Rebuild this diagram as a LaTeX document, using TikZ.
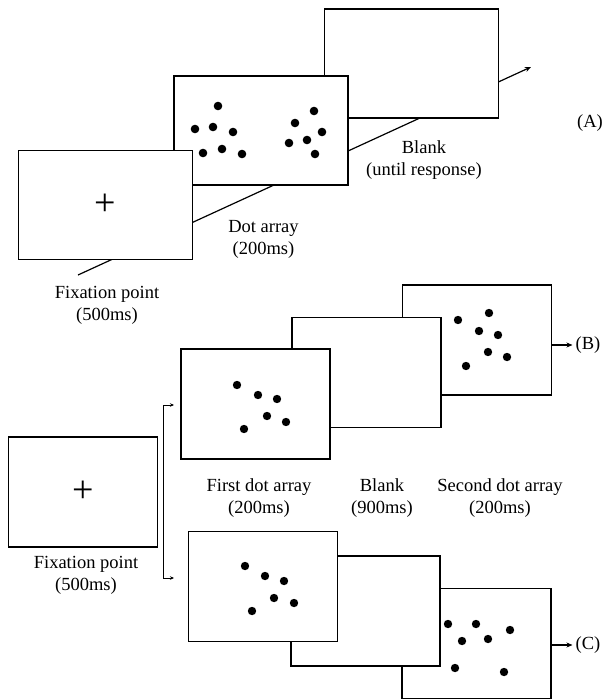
\documentclass[tikz,border=0pt]{standalone}
\usepackage{fontspec}
\setmainfont{Liberation Serif}
\usetikzlibrary{arrows.meta}

\begin{document}
\begin{tikzpicture}[x=1pt,y=-1pt,
    screen/.style={draw,fill=white,line width=1.2pt,inner sep=0pt,outer sep=0pt,minimum width=149pt,minimum height=110pt},
    widescreen/.style={screen,minimum width=174pt,minimum height=109pt},
    caption/.style={align=center,font=\fontsize{18.5}{22}\selectfont,inner sep=0pt},
    cross/.style={font=\fontsize{38}{38}\selectfont,inner sep=0pt},
    tip/.style={-{Stealth[length=6pt,width=5pt]},line width=1.2pt}]

    \useasboundingbox (0,0) rectangle (606,699);

    \coordinate (trackS) at (78,275);
    \coordinate (trackE) at (531,67);
    \draw[tip] (trackS) -- (trackE);

    \node[widescreen] (blankA) at (411.5,63.5) {};
    \node[widescreen] (dotsA) at (261,130.5) {};
    \node[widescreen] (fixA) at (105.5,205) {};
    \node[cross] (crossA) at (fixA.center) {+};
    \foreach \p in {(218,106),(195,129),(213,127),(233,132),(203,153),(222,149),(242,154),
                    (314,111),(295,123),(322,132),(307,140),(289,143),(315,154)}
        \fill \p circle (4.3);

    \node[caption] (labFixA) at (107,305) {Fixation point\\(500ms)};
    \node[caption] (labDotA) at (263.5,239) {Dot array\\(200ms)};
    \node[caption] (labBlankA) at (424,160) {Blank\\(until response)};
    \node[caption] (labA) at (590,123) {(A)};


    \node[screen] (fixB) at (83,492) {};
    \node[cross] (crossB) at (fixB.center) {+};
    \node[caption] (labFixB) at (86,575) {Fixation point\\(500ms)};

    \node[screen] (B3) at (477,340) {};
    \node[screen] (B2) at (366.5,372.5) {};
    \node[screen] (B1) at (255.5,404) {};
    \foreach \p in {(237,385),(258,395),(277,399),(267,416),(286,422),(244,429),
                    (458,320),(489,313),(479,331),(498,335),(488,352),(507,357),(466,366)}
        \fill \p circle (4.2);

    \node[screen] (C3) at (476.5,643.5) {};
    \node[screen] (C2) at (365.5,611) {};
    \node[screen] (C1) at (263,586.5) {};
    \foreach \p in {(245,566),(265,576),(284,581),(274,598),(294,603),(252,611),
                    (448,624),(476,624),(510,630),(462,641),(488,639),(455,668),(504,672)}
        \fill \p circle (4.2);

    \node[caption] (labFirst) at (259,498) {First dot array\\(200ms)};
    \node[caption] (labBlankB) at (382,498) {Blank\\(900ms)};
    \node[caption] (labSecond) at (500,498) {Second dot array\\(200ms)};

    \node[caption,inner sep=3pt] (labB) at (588,345) {(B)};
    \node[caption,inner sep=3pt] (labC) at (588,645) {(C)};
    \draw[tip] (B3.east |- labB) -- (labB.west);
    \draw[tip] (C3.east |- labC) -- (labC.west);

    \coordinate (forkT) at (174,405);
    \coordinate (forkB) at (174,578);
    \draw[{Stealth[length=4pt,width=3.5pt]}-{Stealth[length=4pt,width=3.5pt]},line width=0.9pt] (forkT) -- ++(-11,0) |- (forkB);
\end{tikzpicture}
\end{document}
